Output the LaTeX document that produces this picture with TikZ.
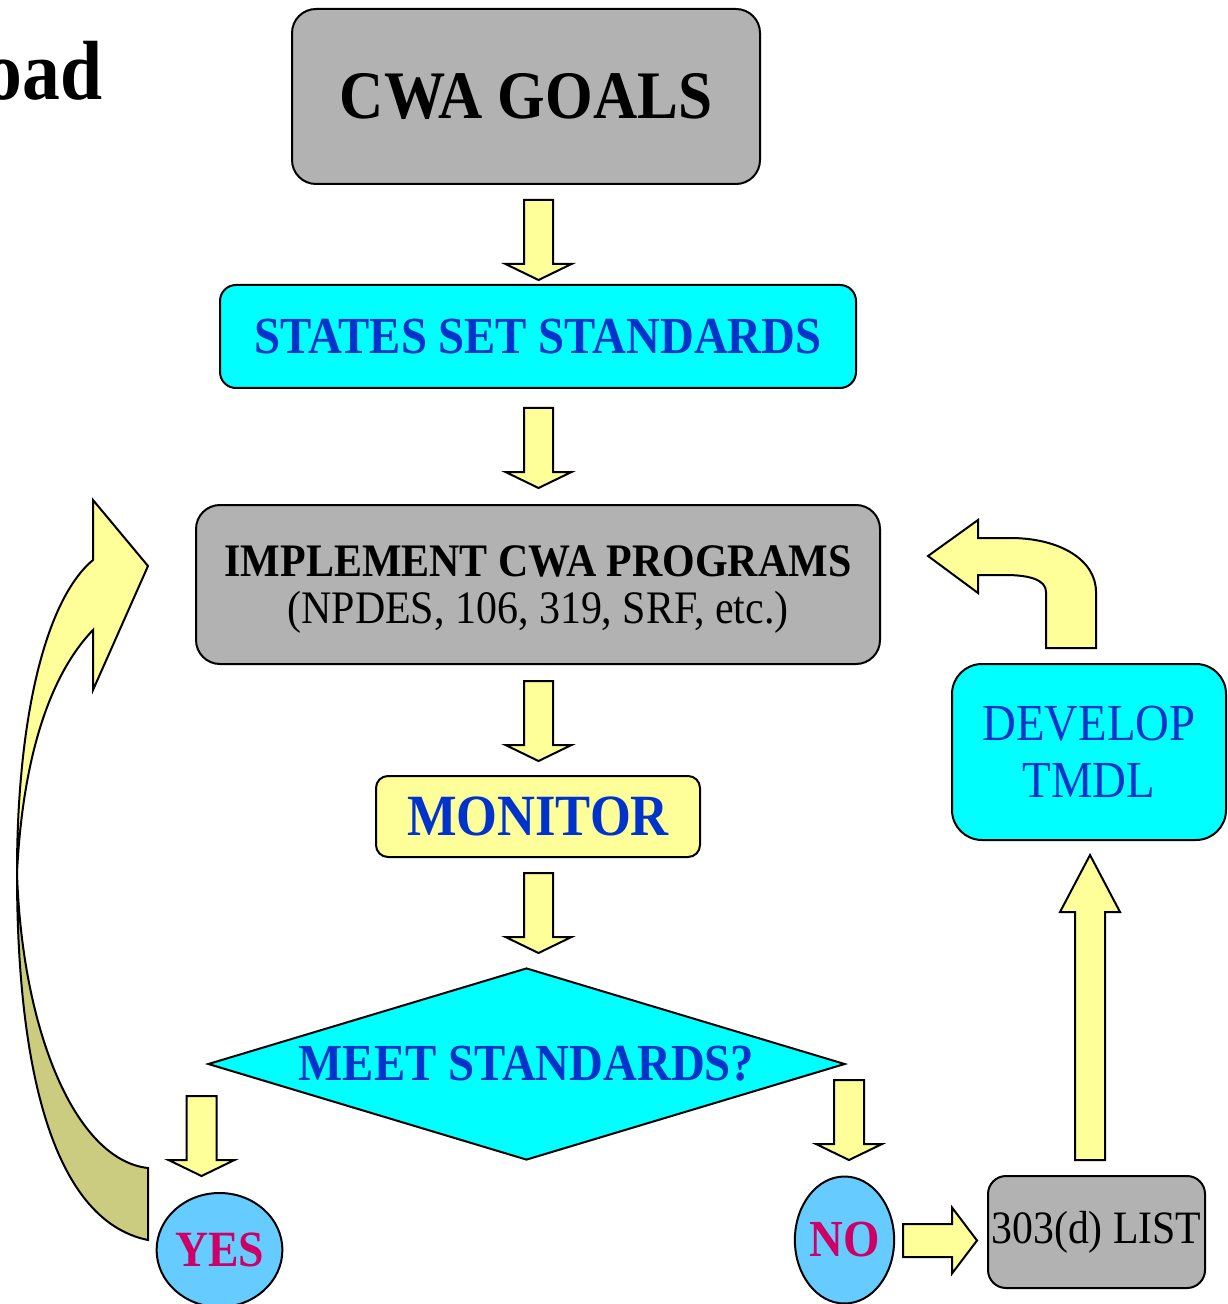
\documentclass[tikz,border=0pt]{standalone}
\usepackage{fontspec}
\setmainfont{Liberation Serif}[FakeStretch=0.9]
\usetikzlibrary{shapes.geometric}

\definecolor{boxgray}{RGB}{178,178,178}
\definecolor{boxcyan}{RGB}{0,255,255}
\definecolor{arrowyellow}{RGB}{255,255,153}
\definecolor{arrowolive}{RGB}{204,204,128}
\definecolor{ovalblue}{RGB}{102,204,255}
\definecolor{textblue}{RGB}{0,51,204}
\definecolor{textmagenta}{RGB}{204,0,102}

\tikzset{
	flowbox/.style={draw=black, line width=1pt, rounded corners=#1, inner sep=0pt, align=center},
	flowbox/.default=10pt,
	answer/.style={ellipse, draw=black, line width=1pt, fill=ovalblue, inner sep=0pt, text=textmagenta},
	arrowbody/.style={draw=black, line width=1pt, fill=arrowyellow, line join=miter},
	pics/blockarrow/.style args={#1/#2/#3/#4}{code={
		\draw[arrowbody] (0,-#2) -- ({#1-#4},-#2) -- ({#1-#4},-#3) -- (#1,0) -- ({#1-#4},#3) -- ({#1-#4},#2) -- (0,#2) -- cycle;
	}}
}

\begin{document}
\begin{tikzpicture}[x = 0.5pt, y = -0.5pt]
		\useasboundingbox (0, 0) rectangle (1227, 1304);
		\node[anchor = base east, inner sep = 0pt, font = \fontsize{42}{48}\selectfont\bfseries] (title) at (103, 100) {oad};
		% boxes
		\node[flowbox = 12pt, fill = boxgray, minimum width = 234pt, minimum height = 87.5pt, font = \fontsize{34}{40}\selectfont\bfseries] (goals) at (526, 96.5) {CWA GOALS};
		\node[flowbox = 8pt, fill = boxcyan, minimum width = 318pt, minimum height = 51.5pt, text = textblue, font = \fontsize{26}{30}\selectfont\bfseries] (states) at (538, 336.5) {STATES SET STANDARDS};
		\node[flowbox = 12pt, fill = boxgray, minimum width = 342pt, minimum height = 79.5pt, text depth = 0pt, font = \fontsize{23.3}{23.5}\selectfont] (implement) at (538, 584.5) {\textbf{IMPLEMENT CWA PROGRAMS}\\(NPDES, 106, 319, SRF, etc.)};
		\node[flowbox = 6pt, fill = arrowyellow, minimum width = 162pt, minimum height = 40.5pt, text = textblue, font = \fontsize{29.2}{34}\selectfont\bfseries] (monitor) at (538, 816.5) {MONITOR};
		\node[diamond, draw = black, line width = 1pt, fill = boxcyan, inner sep = 0pt, aspect = 3.3, minimum width = 318.5pt, minimum height = 96pt, text = textblue, font = \fontsize{26}{30}\selectfont\bfseries] (meet) at (526.5, 1064) {MEET STANDARDS?};
		\node[answer, minimum width = 60.5pt, minimum height = 57pt, font = \fontsize{25.4}{30}\selectfont\bfseries] (yes) at (219.5, 1250) {YES};
		\node[answer, minimum width = 48.5pt, minimum height = 63.5pt, font = \fontsize{26}{30}\selectfont\bfseries] (no) at (844.5, 1240) {NO};
		\node[flowbox = 9pt, fill = boxgray, minimum width = 108.5pt, minimum height = 56pt, font = \fontsize{23.2}{28}\selectfont] (list) at (1096.5, 1232) {303(d) LIST};
		\node[flowbox = 15pt, fill = boxcyan, minimum width = 137pt, minimum height = 88pt, text = textblue, font = \fontsize{26}{28.5}\selectfont] (tmdl) at (1089, 752) {DEVELOP\\TMDL};
		% straight block arrows
		\foreach \ytop in {200, 408, 681, 873}
			\pic[rotate = -90] at (538.5, \ytop) {blockarrow=80/14.5/33/16};
		\pic[rotate = -90] at (201.5, 1096) {blockarrow=80/15/33/16};
		\pic[rotate = -90] at (849, 1080) {blockarrow=80/15/33/16};
		\pic at (903, 1240.5) {blockarrow=74/16.5/33/25};
		\pic[rotate = 90] at (1090, 1160) {blockarrow=305/15/30/57};
		% curved arrow back to the programs
		\draw[arrowbody] (928, 556) -- (978, 520) -- (978, 538) -- (1010, 538) .. controls (1060, 538) and (1096, 560) .. (1096, 592) -- (1096, 648) -- (1046, 648) -- (1046, 592) .. controls (1046, 580) and (1030, 575) .. (1005, 575) -- (978, 575) -- (978, 593) -- cycle;
		% big curved arrow on the left
		\draw[arrowbody, fill = arrowolive] (17, 873) .. controls (17, 1060) and (50, 1220) .. (148, 1240) -- (148, 1168) .. controls (75, 1160) and (22, 1030) .. (17, 873) -- cycle;
		\draw[arrowbody] (17, 873) .. controls (17, 720) and (45, 600) .. (93, 560) -- (93, 500) -- (148, 566) -- (93, 690) -- (93, 630) .. controls (45, 680) and (22, 770) .. (17, 873) -- cycle;
	\end{tikzpicture}
\end{document}
